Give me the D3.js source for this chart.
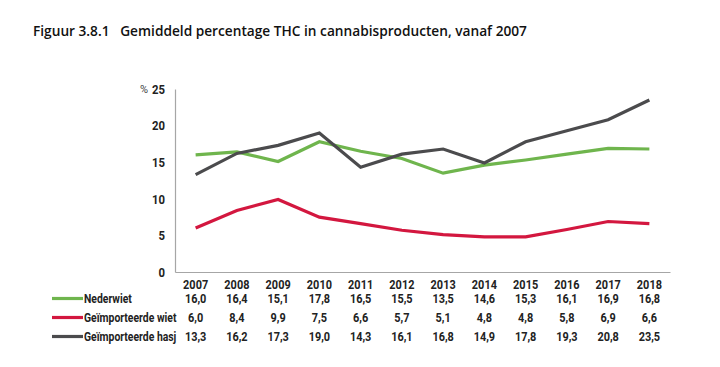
<!DOCTYPE html>
<html><head><meta charset="utf-8">
<script src="https://cdn.jsdelivr.net/npm/d3@7"></script>
<style>body{margin:0;background:#fff}svg{display:block}</style>
</head><body>
<svg id="c" width="720" height="367"></svg>
<script>
const years = ["2007","2008","2009","2010","2011","2012","2013","2014","2015","2016","2017","2018"];
const nederwiet = [16.0,16.4,15.1,17.8,16.5,15.5,13.5,14.6,15.3,16.1,16.9,16.8];
const importWiet = [6.0,8.4,9.9,7.5,6.6,5.7,5.1,4.8,4.8,5.8,6.9,6.6];
const importHasj = [13.3,16.2,17.3,19.0,14.3,16.1,16.8,14.9,17.8,19.3,20.8,23.5];
const seriesNames = ["Nederwiet","Geïmporteerde wiet","Geïmporteerde hasj"];
const seriesColors = ["#6fb54d","#d3173f","#4b4b4d"];
const yTicks = [0,5,10,15,20,25];
const title = "Figuur 3.8.1   Gemiddeld percentage THC in cannabisproducten, vanaf 2007";

const series = [nederwiet, importWiet, importHasj];
const svg = d3.select("#c");
const tickFont = "Roboto,'Liberation Sans',Arial,sans-serif";
const SX = 0.84;

svg.append("text").attr("x",33).attr("y",36)
  .attr("font-family","'Open Sans',sans-serif").attr("font-weight",600)
  .attr("font-size",13.7).attr("fill","#111").style("white-space","pre").text(title);

const x = d3.scaleBand().domain(years).range([175,670]);
const y = d3.scaleLinear().domain([0,25]).range([272,89]);

// y axis
const ya = svg.append("g").attr("transform","translate(175,0)")
  .call(d3.axisLeft(y).tickValues(yTicks).tickSize(0).tickPadding(12));
ya.select(".domain").attr("stroke","#a6a6a6").attr("stroke-width",1.2);
ya.selectAll("text").attr("font-family",tickFont).attr("font-weight","bold").attr("font-size",13.5)
  .attr("fill","#222").attr("transform",`scale(${SX},1)`);
svg.append("text").attr("x",148).attr("y",y(25)+4).attr("text-anchor","end")
  .attr("font-family",tickFont).attr("font-size",11).attr("fill","#444").text("%");

// x axis
const xa = svg.append("g").attr("transform","translate(0,272)")
  .call(d3.axisBottom(x).tickSize(0).tickPadding(8));
xa.select(".domain").attr("stroke","#a6a6a6").attr("stroke-width",1.2);
xa.selectAll("text").attr("font-family",tickFont).attr("font-weight","bold").attr("font-size",13)
  .attr("fill","#222").attr("transform",`scale(${SX},1)`);

const line = d3.line().x((d,i)=>x(years[i])+x.bandwidth()/2).y(d=>y(d));
series.forEach((s,k)=>{
  svg.append("path").datum(s).attr("d",line).attr("fill","none")
    .attr("stroke",seriesColors[k]).attr("stroke-width",3.2).attr("stroke-linejoin","miter");
});

// data table
const rowY = [303,322,341];
series.forEach((s,k)=>{
  svg.append("line").attr("x1",52).attr("x2",83).attr("y1",rowY[k]-4.5).attr("y2",rowY[k]-4.5)
    .attr("stroke",seriesColors[k]).attr("stroke-width",3.2);
  svg.append("text").attr("transform",`translate(84,${rowY[k]}) scale(${SX},1)`).attr("font-family",tickFont)
    .attr("font-weight","bold").attr("font-size",12.4).attr("fill","#222").text(seriesNames[k]);
  svg.selectAll(null).data(s).enter().append("text")
    .attr("transform",(d,i)=>`translate(${x(years[i])+x.bandwidth()/2},${rowY[k]}) scale(${SX},1)`)
    .attr("text-anchor","middle")
    .attr("font-family",tickFont).attr("font-weight","bold").attr("font-size",13).attr("fill","#222")
    .text(d=>d3.format(".1f")(d).replace(".",","));
});
</script>
</body></html>
